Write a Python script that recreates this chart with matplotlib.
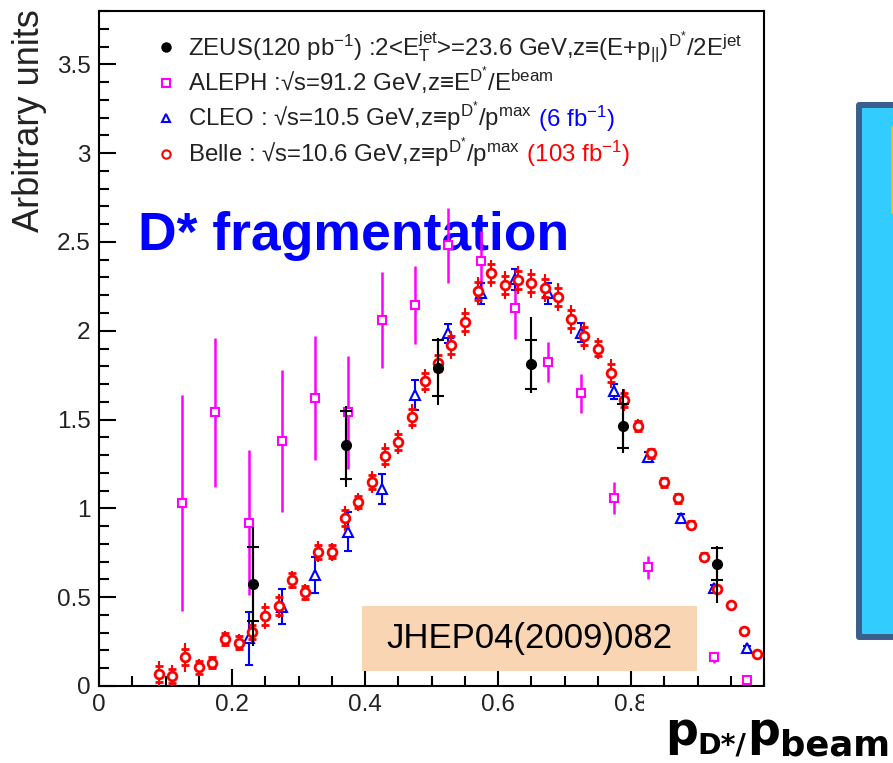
import matplotlib.pyplot as plt
from matplotlib.patches import Rectangle
from matplotlib.text import Annotation
from matplotlib.ticker import MultipleLocator, FuncFormatter

plt.rcParams["font.family"] = ["Liberation Sans", "DejaVu Sans"]
plt.rcParams["mathtext.fontset"] = "custom"
plt.rcParams["mathtext.rm"] = "Liberation Sans"
plt.rcParams["mathtext.it"] = "Liberation Sans"
plt.rcParams["mathtext.bf"] = "Liberation Sans:bold"
plt.rcParams["mathtext.default"] = "regular"

# ZEUS (stat error ticks + total error line)
zeus_x = [0.232, 0.371, 0.510, 0.650, 0.788, 0.929]
zeus_y = [0.574, 1.357, 1.790, 1.810, 1.464, 0.687]
zeus_stat = [0.21, 0.19, 0.16, 0.14, 0.125, 0.09]
zeus_tot_lo = [0.35, 0.235, 0.21, 0.16, 0.15, 0.22]
zeus_tot_hi = [0.32, 0.22, 0.17, 0.27, 0.21, 0.10]

# ALEPH
aleph_x = [0.125, 0.175, 0.225, 0.275, 0.325, 0.375, 0.425, 0.475, 0.525,
           0.575, 0.625, 0.675, 0.725, 0.775, 0.825, 0.925, 0.975]
aleph_y = [1.03, 1.54, 0.92, 1.38, 1.62, 1.54, 2.06, 2.145, 2.48,
           2.39, 2.126, 1.824, 1.648, 1.057, 0.668, 0.162, 0.034]
aleph_err = [0.61, 0.42, 0.41, 0.40, 0.35, 0.32, 0.27, 0.22, 0.21,
             0.17, 0.17, 0.115, 0.11, 0.09, 0.065, 0.03, 0.02]

# CLEO
cleo_x = [0.225, 0.275, 0.325, 0.375, 0.425, 0.475, 0.525, 0.575,
          0.625, 0.675, 0.725, 0.775, 0.825, 0.875, 0.925, 0.975]
cleo_y = [0.268, 0.447, 0.625, 0.869, 1.108, 1.638, 1.985, 2.21,
          2.29, 2.21, 1.99, 1.658, 1.29, 0.944, 0.55, 0.212]
cleo_err = [0.15, 0.10, 0.10, 0.11, 0.085, 0.085, 0.055, 0.06,
            0.06, 0.06, 0.055, 0.04, 0.03, 0.025, 0.02, 0.015]

# Belle
belle_x = [0.09, 0.11, 0.13, 0.15, 0.17, 0.19, 0.21, 0.23, 0.25, 0.27,
           0.29, 0.31, 0.33, 0.35, 0.37, 0.39, 0.41, 0.43, 0.45, 0.47,
           0.49, 0.51, 0.53, 0.55, 0.57, 0.59, 0.61, 0.63, 0.65, 0.67,
           0.69, 0.71, 0.73, 0.75, 0.77, 0.79, 0.81, 0.83, 0.85, 0.87,
           0.89, 0.91, 0.93, 0.95, 0.97, 0.99]
belle_y = [0.068, 0.056, 0.161, 0.105, 0.131, 0.265, 0.244, 0.302, 0.396, 0.450,
           0.597, 0.527, 0.756, 0.756, 0.945, 1.036, 1.149, 1.297, 1.374, 1.517,
           1.717, 1.818, 1.920, 2.050, 2.225, 2.324, 2.258, 2.286, 2.267, 2.239,
           2.190, 2.064, 1.972, 1.900, 1.760, 1.610, 1.464, 1.310, 1.147, 1.057,
           0.907, 0.728, 0.544, 0.456, 0.310, 0.180]
belle_stat = [0.045, 0.04, 0.045, 0.035, 0.03, 0.035, 0.035, 0.04, 0.05, 0.05,
              0.04, 0.035, 0.04, 0.035, 0.045, 0.035, 0.04, 0.045, 0.045, 0.045,
              0.045, 0.045, 0.05, 0.05, 0.05, 0.05, 0.05, 0.05, 0.05, 0.05,
              0.05, 0.05, 0.05, 0.04, 0.05, 0.04, 0.03, 0.025, 0.025, 0.025,
              0.02, 0.02, 0.015, 0.012, 0.015, 0.012]
belle_tot = [0.075, 0.06, 0.08, 0.045, 0.04, 0.045, 0.047, 0.06, 0.073, 0.068,
             0.052, 0.047, 0.06, 0.05, 0.07, 0.05, 0.06, 0.07, 0.07, 0.07,
             0.07, 0.07, 0.08, 0.08, 0.08, 0.075, 0.08, 0.08, 0.08, 0.08,
             0.08, 0.08, 0.08, 0.06, 0.08, 0.06, 0.04, 0.03, 0.03, 0.03,
             0.025, 0.025, 0.02, 0.015, 0.02, 0.015]

x_ticks = [0, 0.2, 0.4, 0.6, 0.8, 1.0]
x_ticklabels = ["0", "0.2", "0.4", "0.6", "0.8", ""]
y_ticks = [0, 0.5, 1, 1.5, 2, 2.5, 3, 3.5]

W, H = 893, 763


def fpx(x, y):
    """pixel position (from top-left) -> figure fraction"""
    return x / W, 1 - y / H


fig = plt.figure(figsize=(W / 100, H / 100), dpi=100)
ax = fig.add_axes([99 / W, 77 / H, 665 / W, 675 / H])
ax.set_xlim(0, 1)
ax.set_ylim(0, 3.8)

for side in ["left", "bottom", "top", "right"]:
    ax.spines[side].set_linewidth(1.5)
ax.set_xticks(x_ticks, x_ticklabels)
ax.set_yticks(y_ticks)
ax.xaxis.set_minor_locator(MultipleLocator(0.05))
ax.yaxis.set_minor_locator(MultipleLocator(0.1))
ax.yaxis.set_major_formatter(FuncFormatter(lambda v, _: f"{v:g}"))
ax.tick_params(which="both", direction="in", top=False, right=False, width=1.5)
ax.tick_params(which="major", length=12, labelsize=17.5, pad=6, labelcolor="#222222")
ax.tick_params(which="minor", length=7)

# ALEPH
ax.errorbar(aleph_x, aleph_y, yerr=aleph_err, fmt="s", ms=6, mfc="white",
            mec="#FF00FF", mew=1.5, ecolor="#FF00FF", elinewidth=1.8,
            capsize=0, zorder=3)

# CLEO
ax.errorbar(cleo_x, cleo_y, yerr=cleo_err, fmt="^", ms=6.5, mfc="white",
            mec="#0000FF", mew=1.5, ecolor="#0000FF", elinewidth=1.5,
            capsize=3, capthick=1.5, zorder=4)

# Belle: total error line, stat error caps
belle_lo = [y - e for y, e in zip(belle_y, belle_tot)]
belle_hi = [y + e for y, e in zip(belle_y, belle_tot)]
ax.vlines(belle_x, belle_lo, belle_hi, color="#FF0000", lw=1.5, zorder=5)
ax.errorbar(belle_x, belle_y, yerr=belle_stat, fmt="o", ms=6.3, mfc="white",
            mec="#FF0000", mew=2, ecolor="#FF0000", elinewidth=1.5,
            capsize=3, capthick=1.5, zorder=5)

# ZEUS
zeus_lo = [y - e for y, e in zip(zeus_y, zeus_tot_lo)]
zeus_hi = [y + e for y, e in zip(zeus_y, zeus_tot_hi)]
ax.vlines(zeus_x, zeus_lo, zeus_hi, color="black", lw=1.5, zorder=6)
ax.errorbar(zeus_x, zeus_y, yerr=zeus_stat, fmt="o", ms=7, color="black",
            elinewidth=1.5, capsize=4, capthick=1.5, zorder=6)

# legend block
legend_rows = [
    ("o", dict(mfc="black", mec="black"), 0.9467, 0.9348,
     r"ZEUS(120 pb$^{-1}$) :2<$E_T^{jet}$>=23.6 GeV,z≡(E+$p_{||}$)$^{D^{*}}$/2$E^{jet}$",
     None, None),
    ("s", dict(mfc="white", mec="#FF00FF"), 0.8933, 0.8804,
     r"ALEPH :√s=91.2 GeV,z≡$E^{D^{*}}$/$E^{beam}$", None, None),
    ("^", dict(mfc="white", mec="#0000FF"), 0.8415, 0.8286,
     r"CLEO : √s=10.5 GeV,z≡$p^{D^{*}}$/$p^{max}$", r" (6 fb$^{-1}$)", "#0000FF"),
    ("o", dict(mfc="white", mec="#FF0000"), 0.7881, 0.7758,
     r"Belle : √s=10.6 GeV,z≡$p^{D^{*}}$/$p^{max}$", r" (103 fb$^{-1}$)", "#FF0000"),
]
for marker, mstyle, my, ty, label, extra, ecol in legend_rows:
    ax.plot([0.1008], [my], marker=marker, ms=6, mew=1.5, ls="none",
            transform=ax.transAxes, clip_on=False, **mstyle)
    t = ax.text(0.1338, ty, label, transform=ax.transAxes, fontsize=17.3,
                color="#222222", va="baseline", ha="left")
    if extra:
        ax.annotate(extra, xy=(1, ty), xycoords=(t, ax.transAxes),
                    fontsize=17.3, color=ecol, va="baseline", ha="left")

ax.text(0.0586, 0.6459, "D* fragmentation", transform=ax.transAxes,
        fontsize=38.5, fontweight="bold", color="#0000FF", va="baseline",
        ha="left", zorder=1)

fig.text(*fpx(30, 121), "Arbitrary units", rotation=90, fontsize=26,
         color="#222222", ha="center", va="center")

# reference tag
x0, y0 = fpx(362, 671)
x1, y1 = fpx(697, 606)
fig.patches.append(Rectangle((x0, y0), x1 - x0, y1 - y0, transform=fig.transFigure,
                             facecolor="#FAD5B4", edgecolor="none", zorder=5))
fig.text(*fpx(529.5, 638.5), "JHEP04(2009)082", fontsize=25, color="black",
         ha="center", va="center", zorder=6)

# panel at right edge
x0, y0 = fpx(859, 637)
x1, y1 = fpx(905, 105)
fig.patches.append(Rectangle((x0, y0), x1 - x0, y1 - y0, transform=fig.transFigure,
                             facecolor="#33CCFF", edgecolor="#3B5F8C", lw=4.3,
                             joinstyle="round", zorder=5))
fig.add_artist(plt.Line2D([892 / W, 892 / W], [1 - 127 / H, 1 - 212 / H],
                          color="#FFC000", lw=1.8, zorder=6))

# x axis title on a white patch
x0, y0 = fpx(644, 763)
x1, y1 = fpx(893, 687)
fig.patches.append(Rectangle((x0, y0), x1 - x0, y1 - y0, transform=fig.transFigure,
                             facecolor="white", edgecolor="none", zorder=5))
bold = dict(family="DejaVu Sans", fontweight="bold", color="black",
            va="baseline", ha="left", annotation_clip=False)


def xlabel_part(text, xy, coords, size):
    part = Annotation(text, xy=xy, xycoords=coords, fontsize=size, **bold)
    part.set_zorder(6)
    fig.add_artist(part)
    return part


p1 = xlabel_part("p", (665, 763 - 745), "figure pixels", 33)
s1 = xlabel_part("D*/", (1, 763 - 754), (p1, "figure pixels"), 20.5)
p2 = xlabel_part("p", (1, 763 - 745), (s1, "figure pixels"), 33)
xlabel_part("beam", (1, 763 - 756), (p2, "figure pixels"), 25.5)

fig.savefig("out.png", dpi=100)
